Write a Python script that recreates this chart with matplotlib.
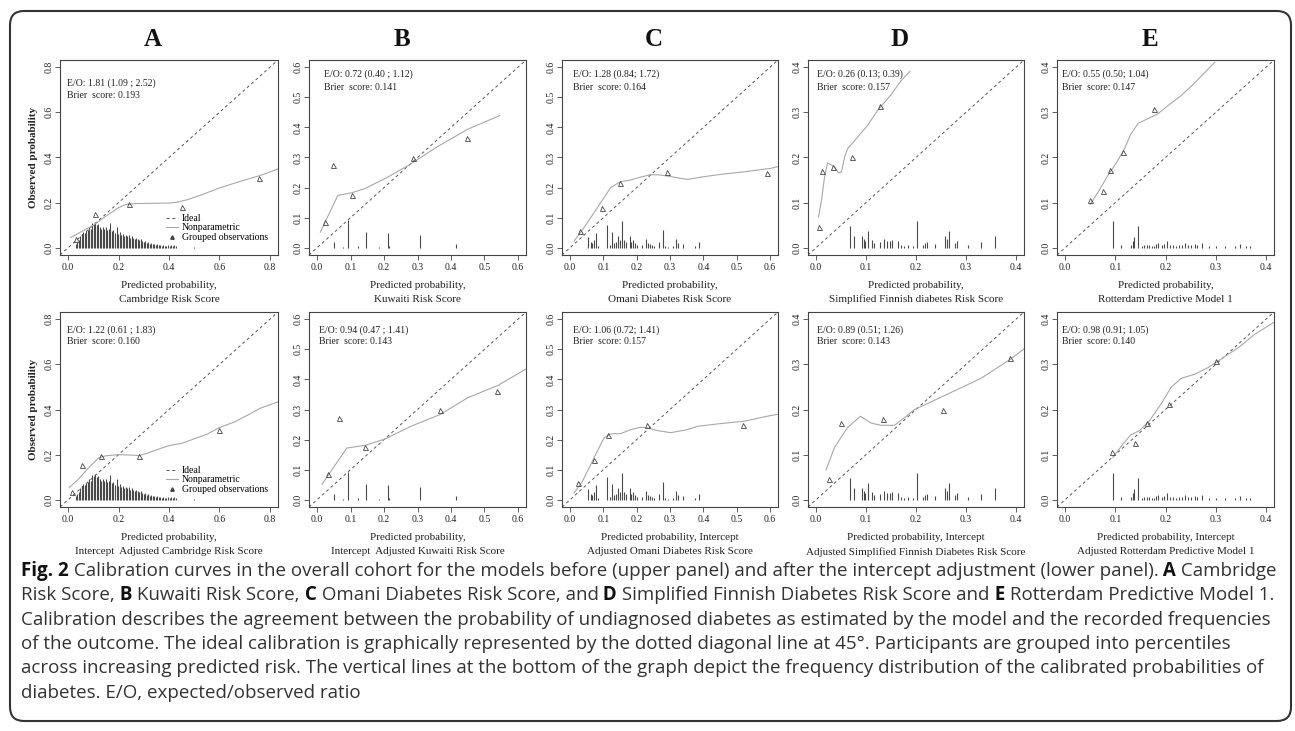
import matplotlib
matplotlib.use('Agg')
import matplotlib.pyplot as plt
import numpy as np
from matplotlib.lines import Line2D
from matplotlib.patches import FancyBboxPatch
from matplotlib.transforms import IdentityTransform
from matplotlib import font_manager

# ---------------- data ----------------
# A: Cambridge Risk Score
a_hist_x = [0.030, 0.036, 0.042, 0.048, 0.054, 0.060, 0.066, 0.072, 0.078, 0.084,
            0.090, 0.096, 0.102, 0.108, 0.114, 0.120, 0.126, 0.132, 0.138, 0.144,
            0.150, 0.156, 0.162, 0.168, 0.174, 0.180, 0.186, 0.192, 0.198, 0.204,
            0.210, 0.216, 0.222, 0.228, 0.234, 0.240, 0.246, 0.252, 0.258, 0.264,
            0.270, 0.276, 0.282, 0.288, 0.294, 0.300, 0.306, 0.312, 0.318, 0.324,
            0.330, 0.336, 0.342, 0.348, 0.354, 0.360, 0.366, 0.372, 0.378, 0.384,
            0.390, 0.396, 0.402, 0.408, 0.414, 0.420, 0.426, 0.498]
a_hist_h = [0.015, 0.025, 0.035, 0.050, 0.060, 0.070, 0.065, 0.075, 0.080, 0.090,
            0.085, 0.110, 0.105, 0.115, 0.100, 0.105, 0.090, 0.085, 0.090, 0.085,
            0.090, 0.080, 0.085, 0.110, 0.075, 0.080, 0.065, 0.090, 0.060, 0.070,
            0.055, 0.060, 0.050, 0.055, 0.050, 0.055, 0.045, 0.050, 0.045, 0.040,
            0.045, 0.040, 0.035, 0.040, 0.030, 0.025, 0.030, 0.020, 0.025, 0.018,
            0.020, 0.015, 0.018, 0.014, 0.015, 0.012, 0.013, 0.010, 0.012, 0.010,
            0.008, 0.012, 0.010, 0.013, 0.009, 0.011, 0.008, 0.005]
a_top_curve_x = [0.01, 0.05, 0.10, 0.15, 0.20, 0.23, 0.27, 0.33, 0.40, 0.43, 0.47,
                 0.53, 0.60, 0.67, 0.76, 0.835]
a_top_curve_y = [0.045, 0.07, 0.10, 0.14, 0.178, 0.192, 0.196, 0.197, 0.198, 0.202,
                 0.212, 0.235, 0.265, 0.29, 0.32, 0.35]
a_top_obs_x = [0.03, 0.107, 0.243, 0.453, 0.757]
a_top_obs_y = [0.04, 0.151, 0.195, 0.18, 0.307]
a_bot_curve_x = [0.005, 0.04, 0.08, 0.12, 0.15, 0.20, 0.25, 0.28, 0.31, 0.36, 0.40,
                 0.45, 0.50, 0.55, 0.60, 0.66, 0.72, 0.76, 0.835]
a_bot_curve_y = [0.055, 0.09, 0.14, 0.185, 0.195, 0.20, 0.198, 0.196, 0.205, 0.225,
                 0.24, 0.25, 0.27, 0.29, 0.32, 0.345, 0.38, 0.405, 0.435]
a_bot_obs_x = [0.017, 0.054, 0.13, 0.283, 0.60]
a_bot_obs_y = [0.033, 0.156, 0.193, 0.193, 0.307]

# B: Kuwaiti Risk Score
b_hist_x = [0.0495, 0.079, 0.092, 0.121, 0.146, 0.186, 0.211, 0.216, 0.307, 0.414]
b_hist_h = [0.020, 0.003, 0.091, 0.005, 0.053, 0.003, 0.050, 0.005, 0.044, 0.014]
b_top_curve_x = [0.01, 0.062, 0.104, 0.144, 0.213, 0.282, 0.361, 0.45, 0.545]
b_top_curve_y = [0.052, 0.174, 0.183, 0.197, 0.236, 0.28, 0.337, 0.394, 0.439]
b_top_obs_x = [0.023, 0.047, 0.104, 0.286, 0.447]
b_top_obs_y = [0.087, 0.274, 0.177, 0.297, 0.366]
b_bot_curve_x = [0.015, 0.089, 0.144, 0.203, 0.282, 0.367, 0.45, 0.54, 0.625]
b_bot_curve_y = [0.052, 0.172, 0.181, 0.202, 0.245, 0.283, 0.339, 0.38, 0.435]
b_bot_obs_x = [0.033, 0.065, 0.144, 0.367, 0.537]
b_bot_obs_y = [0.086, 0.272, 0.176, 0.297, 0.363]

# C: Omani Diabetes Risk Score
c_hist_x = [0.055, 0.062, 0.067, 0.072, 0.079, 0.084, 0.110, 0.119, 0.127, 0.132,
            0.137, 0.145, 0.150, 0.157, 0.163, 0.168, 0.180, 0.184, 0.190, 0.195,
            0.200, 0.217, 0.229, 0.235, 0.240, 0.245, 0.252, 0.268, 0.278, 0.284,
            0.294, 0.308, 0.319, 0.325, 0.338, 0.375, 0.387]
c_hist_h = [0.036, 0.020, 0.015, 0.025, 0.050, 0.005, 0.076, 0.010, 0.051, 0.015,
            0.020, 0.039, 0.025, 0.089, 0.025, 0.020, 0.039, 0.020, 0.025, 0.015,
            0.010, 0.010, 0.028, 0.015, 0.012, 0.008, 0.005, 0.020, 0.058, 0.005,
            0.003, 0.005, 0.030, 0.015, 0.013, 0.005, 0.018]
c_top_curve_x = [0.012, 0.042, 0.082, 0.122, 0.152, 0.182, 0.212, 0.242, 0.27, 0.30,
                 0.352, 0.40, 0.452, 0.52, 0.602, 0.624]
c_top_curve_y = [0.022, 0.067, 0.133, 0.20, 0.22, 0.225, 0.235, 0.243, 0.242, 0.237,
                 0.227, 0.236, 0.244, 0.252, 0.264, 0.27]
c_top_obs_x = [0.03, 0.095, 0.15, 0.292, 0.592]
c_top_obs_y = [0.056, 0.131, 0.214, 0.253, 0.249]
c_bot_curve_x = [0.012, 0.037, 0.072, 0.102, 0.122, 0.152, 0.182, 0.212, 0.232, 0.262,
                 0.302, 0.352, 0.382, 0.442, 0.522, 0.602, 0.624]
c_bot_curve_y = [0.022, 0.061, 0.139, 0.206, 0.219, 0.22, 0.233, 0.241, 0.239, 0.23,
                 0.223, 0.233, 0.244, 0.252, 0.261, 0.28, 0.284]
c_bot_obs_x = [0.025, 0.072, 0.114, 0.232, 0.52]
c_bot_obs_y = [0.056, 0.132, 0.214, 0.25, 0.248]

# D: Simplified Finnish Diabetes Risk Score
d_hist_x = [0.0687, 0.0753, 0.0913, 0.0953, 0.0987, 0.104, 0.1113, 0.1167, 0.1287,
            0.1367, 0.142, 0.1487, 0.152, 0.1647, 0.17, 0.1767, 0.1833, 0.1947,
            0.2013, 0.2133, 0.2187, 0.2213, 0.238, 0.258, 0.2613, 0.2653, 0.278,
            0.282, 0.3047, 0.33, 0.358]
d_hist_h = [0.048, 0.027, 0.027, 0.020, 0.015, 0.037, 0.018, 0.010, 0.013, 0.020,
            0.014, 0.015, 0.018, 0.015, 0.007, 0.005, 0.006, 0.005, 0.060, 0.006,
            0.010, 0.012, 0.008, 0.027, 0.020, 0.037, 0.010, 0.015, 0.006, 0.013,
            0.027]
d_top_curve_x = [0.005, 0.011, 0.017, 0.023, 0.03, 0.037, 0.045, 0.051, 0.057, 0.063,
                 0.083, 0.103, 0.123, 0.15, 0.17, 0.188]
d_top_curve_y = [0.068, 0.105, 0.156, 0.188, 0.184, 0.179, 0.166, 0.168, 0.20, 0.219,
                 0.245, 0.271, 0.304, 0.339, 0.37, 0.391]
d_top_obs_x = [0.0067, 0.011, 0.033, 0.071, 0.128]
d_top_obs_y = [0.047, 0.171, 0.18, 0.201, 0.314]
d_bot_curve_x = [0.02, 0.037, 0.063, 0.089, 0.11, 0.13, 0.157, 0.177, 0.197, 0.217,
                 0.263, 0.33, 0.387, 0.417]
d_bot_curve_y = [0.066, 0.116, 0.16, 0.185, 0.17, 0.165, 0.165, 0.182, 0.20, 0.21,
                 0.234, 0.269, 0.31, 0.335]
d_bot_obs_x = [0.025, 0.049, 0.133, 0.253, 0.387]
d_bot_obs_y = [0.047, 0.171, 0.18, 0.20, 0.315]

# E: Rotterdam Predictive Model 1
e_hist_x = [0.0947, 0.1113, 0.1313, 0.1353, 0.138, 0.146, 0.1527, 0.158, 0.1627,
            0.168, 0.1727, 0.178, 0.1813, 0.1847, 0.1927, 0.198, 0.2027, 0.208,
            0.2147, 0.2213, 0.226, 0.2333, 0.238, 0.2447, 0.2513, 0.2593, 0.2633,
            0.2727, 0.286, 0.3013, 0.318, 0.338, 0.348, 0.3593, 0.368]
e_hist_h = [0.060, 0.007, 0.007, 0.015, 0.024, 0.049, 0.005, 0.006, 0.006, 0.007,
            0.005, 0.005, 0.008, 0.010, 0.007, 0.008, 0.015, 0.006, 0.006, 0.005,
            0.006, 0.007, 0.010, 0.006, 0.006, 0.008, 0.007, 0.010, 0.005, 0.005,
            0.005, 0.005, 0.009, 0.005, 0.005]
e_top_curve_x = [0.05, 0.068, 0.085, 0.101, 0.118, 0.131, 0.146, 0.165, 0.185, 0.205,
                 0.231, 0.258, 0.298]
e_top_curve_y = [0.096, 0.127, 0.16, 0.186, 0.219, 0.252, 0.276, 0.286, 0.297, 0.315,
                 0.337, 0.365, 0.411]
e_top_obs_x = [0.05, 0.075, 0.09, 0.115, 0.177]
e_top_obs_y = [0.105, 0.125, 0.173, 0.212, 0.308]
e_bot_curve_x = [0.095, 0.115, 0.131, 0.148, 0.168, 0.191, 0.211, 0.231, 0.258, 0.285,
                 0.311, 0.345, 0.378, 0.42]
e_bot_curve_y = [0.094, 0.123, 0.144, 0.153, 0.175, 0.212, 0.249, 0.269, 0.278, 0.293,
                 0.312, 0.337, 0.367, 0.396]
e_bot_obs_x = [0.093, 0.14, 0.163, 0.207, 0.30]
e_bot_obs_y = [0.105, 0.125, 0.171, 0.212, 0.308]

panel_letters = ['A', 'B', 'C', 'D', 'E']
axis_max = [0.8, 0.6, 0.6, 0.4, 0.4]
tick_step = [0.2, 0.1, 0.1, 0.1, 0.1]

top_stats = [('E/O: 1.81 (1.09 ; 2.52)', 'Brier  score: 0.193'),
             ('E/O: 0.72 (0.40 ; 1.12)', 'Brier  score: 0.141'),
             ('E/O: 1.28 (0.84; 1.72)', 'Brier  score: 0.164'),
             ('E/O: 0.26 (0.13; 0.39)', 'Brier  score: 0.157'),
             ('E/O: 0.55 (0.50; 1.04)', 'Brier  score: 0.147')]
bot_stats = [('E/O: 1.22 (0.61 ; 1.83)', 'Brier  score: 0.160'),
             ('E/O: 0.94 (0.47 ; 1.41)', 'Brier  score: 0.143'),
             ('E/O: 1.06 (0.72; 1.41)', 'Brier  score: 0.157'),
             ('E/O: 0.89 (0.51; 1.26)', 'Brier  score: 0.143'),
             ('E/O: 0.98 (0.91; 1.05)', 'Brier  score: 0.140')]
top_xlabels = [('Predicted probability,', 'Cambridge Risk Score'),
               ('Predicted probability,', 'Kuwaiti Risk Score'),
               ('Predicted probability,', 'Omani Diabetes Risk Score'),
               ('Predicted probability,', 'Simplified Finnish diabetes Risk Score'),
               ('Predicted probability,', 'Rotterdam Predictive Model 1')]
bot_xlabels = [('Predicted probability,', 'Intercept  Adjusted Cambridge Risk Score'),
               ('Predicted probability,', 'Intercept  Adjusted Kuwaiti Risk Score'),
               ('Predicted probability, Intercept', 'Adjusted Omani Diabetes Risk Score'),
               ('Predicted probability, Intercept', 'Adjusted Simplified Finnish Diabetes Risk Score'),
               ('Predicted probability, Intercept', 'Adjusted Rotterdam Predictive Model 1')]
legend_labels = ['Ideal', 'Nonparametric', 'Grouped observations']

caption_lines = [
    [('Fig. 2', True), (' Calibration curves in the overall cohort for the models before (upper panel) '
                        'and after the intercept adjustment (lower panel).', False),
     (' A', True), (' Cambridge', False)],
    [('Risk Score,', False), (' B', True), (' Kuwaiti Risk Score,', False), (' C', True),
     (' Omani Diabetes Risk Score, and', False), (' D', True),
     (' Simplified Finnish Diabetes Risk Score and', False), (' E', True),
     (' Rotterdam Predictive Model 1.', False)],
    [('Calibration describes the agreement between the probability of undiagnosed diabetes '
      'as estimated by the model and the recorded frequencies', False)],
    [('of the outcome. The ideal calibration is graphically represented by the dotted diagonal '
      'line at 45\u00b0. Participants are grouped into percentiles', False)],
    [('across increasing predicted risk. The vertical lines at the bottom of the graph depict '
      'the frequency distribution of the calibrated probabilities of', False)],
    [('diabetes. E/O, expected/observed ratio', False)],
]

hists = [(a_hist_x, a_hist_h), (b_hist_x, b_hist_h), (c_hist_x, c_hist_h),
         (d_hist_x, d_hist_h), (e_hist_x, e_hist_h)]
curves = [
    [(a_top_curve_x, a_top_curve_y), (b_top_curve_x, b_top_curve_y), (c_top_curve_x, c_top_curve_y),
     (d_top_curve_x, d_top_curve_y), (e_top_curve_x, e_top_curve_y)],
    [(a_bot_curve_x, a_bot_curve_y), (b_bot_curve_x, b_bot_curve_y), (c_bot_curve_x, c_bot_curve_y),
     (d_bot_curve_x, d_bot_curve_y), (e_bot_curve_x, e_bot_curve_y)],
]
observed = [
    [(a_top_obs_x, a_top_obs_y), (b_top_obs_x, b_top_obs_y), (c_top_obs_x, c_top_obs_y),
     (d_top_obs_x, d_top_obs_y), (e_top_obs_x, e_top_obs_y)],
    [(a_bot_obs_x, a_bot_obs_y), (b_bot_obs_x, b_bot_obs_y), (c_bot_obs_x, c_bot_obs_y),
     (d_bot_obs_x, d_bot_obs_y), (e_bot_obs_x, e_bot_obs_y)],
]
stats = [top_stats, bot_stats]
xlabels = [top_xlabels, bot_xlabels]

# ---------------- layout (pixels) ----------------
W, H = 1295, 731
col_x = [(60, 278), (309, 526), (562, 778), (808, 1024), (1057, 1274)]
row_y = [(60, 255), (312, 507)]
stat_dx = [[7, 15, 11, 9, 5], [7, 10, 11, 9, 5]]
stat_dy = [[(23, 36), (14, 27), (14, 27), (14, 27), (14, 27)],
           [(18, 30)] * 5]
xlabel_y = [(285, 299), (538, 552)]

plt.rcParams['font.family'] = 'Liberation Serif'
fig = plt.figure(figsize=(W / 100, H / 100), dpi=100)


def fx(px):
    return px / W


def fy(py):
    return 1 - py / H


ink = '#444444'
for r in range(2):
    y0, y1 = row_y[r]
    for c in range(5):
        x0, x1 = col_x[c]
        ax = fig.add_axes([fx(x0), fy(y1), (x1 - x0) / W, (y1 - y0) / H])
        hi = axis_max[c]
        pad = 0.04 * hi
        ax.set_xlim(-pad, hi + pad)
        ax.set_ylim(-pad, hi + pad)
        ticks = np.arange(0, hi + 1e-9, tick_step[c])
        labels = [f'{t:.1f}' for t in ticks]
        ax.set_xticks(ticks, labels)
        ax.set_yticks(ticks, labels)
        ax.tick_params(direction='out', length=3.5, width=0.6, color=ink,
                       labelsize=7, labelcolor='#222222')
        ax.tick_params(axis='x', pad=2)
        ax.tick_params(axis='y', pad=1, labelrotation=90)
        for lab in ax.get_yticklabels():
            lab.set_verticalalignment('center')
        for s in ax.spines.values():
            s.set_color(ink)
            s.set_linewidth(0.8)

        ax.axline((0, 0), (1, 1), color='#555555', lw=0.7, ls=(0, (3, 3)))
        hx, hh = hists[c]
        ax.vlines(hx, 0, hh, color='#4a4a4a', lw=0.8)
        cx, cy = curves[r][c]
        ax.plot(cx, cy, color='#a8a8a8', lw=0.8)
        ox, oy = observed[r][c]
        ax.plot(ox, oy, ls='none', marker='^', ms=3.6, mfc='none', mec=ink, mew=0.6)

        eo, brier = stats[r][c]
        dy1, dy2 = stat_dy[r][c]
        fig.text(fx(x0 + stat_dx[r][c]), fy(y0 + dy1), eo, fontsize=7, va='center', color='#222222')
        fig.text(fx(x0 + stat_dx[r][c]), fy(y0 + dy2), brier, fontsize=7, va='center', color='#222222')

        xc = (x0 + x1) / 2
        l1, l2 = xlabels[r][c]
        fig.text(fx(xc), fy(xlabel_y[r][0]), l1, fontsize=8, ha='center', va='center', color='#222222')
        fig.text(fx(xc), fy(xlabel_y[r][1]), l2, fontsize=8, ha='center', va='center', color='#222222')

        if r == 0:
            fig.text(fx(xc - 16), fy(40), panel_letters[c], fontsize=18, fontweight='bold',
                     ha='center', va='center', color='#111111')
        if c == 0:
            fig.text(fx(33), fy((y0 + y1) / 2), 'Observed probability', fontsize=8,
                     fontweight='bold', rotation=90, ha='center', va='center', color='#222222')
            handles = [Line2D([], [], color='#555555', lw=0.7, ls=(0, (3, 3))),
                       Line2D([], [], color='#a8a8a8', lw=0.8),
                       Line2D([], [], ls='none', marker='^', ms=2.5, mfc=ink, mec=ink)]
            ax.legend(handles, legend_labels, loc='upper left',
                      bbox_to_anchor=(fx(166), fy(y0 + 154)),
                      bbox_transform=fig.transFigure, frameon=False, fontsize=7,
                      handlelength=1.2, handletextpad=0.4, labelspacing=0.05,
                      borderpad=0, borderaxespad=0)

# rounded frame
frame = FancyBboxPatch((10, H - 721), 1281, 710, boxstyle='round,pad=0,rounding_size=14',
                       transform=IdentityTransform(), fill=False, ec='#333333', lw=1.5)
fig.add_artist(frame)

# caption
names = {f.name for f in font_manager.fontManager.ttflist}
cap_font = 'Liberation Sans Narrow' if 'Liberation Sans Narrow' in names else 'Open Sans'
renderer = fig.canvas.get_renderer()


def draw_runs(y_px, runs, size):
    x = 21
    made = []
    for txt, bold in runs:
        t = fig.text(fx(x), fy(y_px), txt, fontsize=size, family=cap_font,
                     fontweight='bold' if bold else 'normal',
                     color='#111111' if bold else '#333333', ha='left', va='center')
        bb = t.get_window_extent(renderer)
        x = bb.x1
        made.append(t)
    return x - 21, made


w10, tmp = draw_runs(571, caption_lines[0], 10)
for t in tmp:
    t.remove()
cap_size = 10 * 1255 / w10
for i, runs in enumerate(caption_lines):
    draw_runs(571 + i * 24.3, runs, cap_size)

fig.savefig('out.png', dpi=100)
